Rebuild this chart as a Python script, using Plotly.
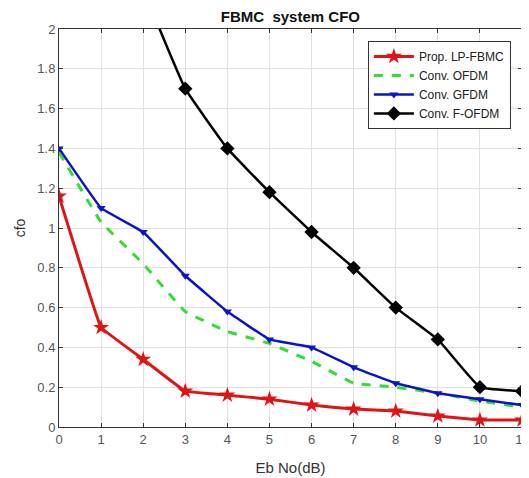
import plotly.graph_objects as go

x = list(range(12))
red_y = [1.16, 0.50, 0.34, 0.18, 0.16, 0.14, 0.11, 0.09, 0.08, 0.055, 0.035, 0.035]
green_y = [1.38, 1.03, 0.82, 0.58, 0.48, 0.42, 0.33, 0.22, 0.20, 0.17, 0.13, 0.10]
blue_y = [1.40, 1.10, 0.98, 0.76, 0.58, 0.44, 0.40, 0.30, 0.22, 0.17, 0.14, 0.11]
black_x = list(range(2, 12))
black_y = [2.20, 1.70, 1.40, 1.18, 0.98, 0.80, 0.60, 0.44, 0.20, 0.18]
names = ["Prop. LP-FBMC", "Conv. OFDM", "Conv. GFDM", "Conv. F-OFDM"]
x_ticks = list(range(12))
y_ticks = [0, 0.2, 0.4, 0.6, 0.8, 1, 1.2, 1.4, 1.6, 1.8, 2]

fig = go.Figure()
fig.add_trace(go.Scatter(x=x, y=red_y, name=names[0], mode="lines+markers",
                         line=dict(color="#e01414", width=3, shape="spline", smoothing=0.15),
                         marker=dict(symbol="star", size=12, color="#e01414")))
fig.add_trace(go.Scatter(x=x, y=green_y, name=names[1], mode="lines",
                         line=dict(color="#33dd33", width=3, dash="dash", shape="spline", smoothing=0.2)))
fig.add_trace(go.Scatter(x=x, y=blue_y, name=names[2], mode="lines+markers",
                         line=dict(color="#0a14c8", width=2.5, shape="spline", smoothing=0.2),
                         marker=dict(symbol="triangle-down", size=8, color="#0a14c8")))
fig.add_trace(go.Scatter(x=black_x, y=black_y, name=names[3], mode="lines+markers",
                         line=dict(color="#000000", width=2.5, shape="spline", smoothing=0.3),
                         marker=dict(symbol="diamond", size=11, color="#000000")))

axis_common = dict(showline=True, linecolor="#333333", linewidth=1, mirror="ticks",
                   showgrid=True, gridcolor="#e0e0e0", gridwidth=1, zeroline=False,
                   ticks="inside", ticklen=4, tickcolor="#333333", automargin=False,
                   tickfont=dict(family="Liberation Sans, Arial", size=13, color="#555555"))

fig.update_layout(
    width=521, height=470,
    margin=dict(l=51, r=7, t=21, b=51),
    paper_bgcolor="white", plot_bgcolor="white",
    title=dict(text="<b>FBMC  system CFO</b>", x=0.542, xanchor="center", y=0.992, yanchor="top",
               font=dict(family="Liberation Sans, Arial", size=15, color="#111111")),
    xaxis=dict(range=[0, 11], tickvals=x_ticks, ticktext=[str(v) for v in x_ticks],
               title=dict(text="Eb No(dB)", standoff=16,
                          font=dict(family="Liberation Sans, Arial", size=15, color="#333333")),
               **axis_common),
    yaxis=dict(range=[0, 2], tickvals=y_ticks, ticktext=[("%g" % v) for v in y_ticks],
               title=dict(text="cfo", standoff=8,
                          font=dict(family="Liberation Sans, Arial", size=14, color="#333333")),
               **axis_common),
    legend=dict(x=0.976, y=0.97, xanchor="right", yanchor="top",
                bgcolor="white", bordercolor="#333333", borderwidth=1,
                font=dict(family="Liberation Sans, Arial", size=12, color="#222222"),
                tracegroupgap=0, itemwidth=40),
    showlegend=True,
)

fig.write_html("out.html")
